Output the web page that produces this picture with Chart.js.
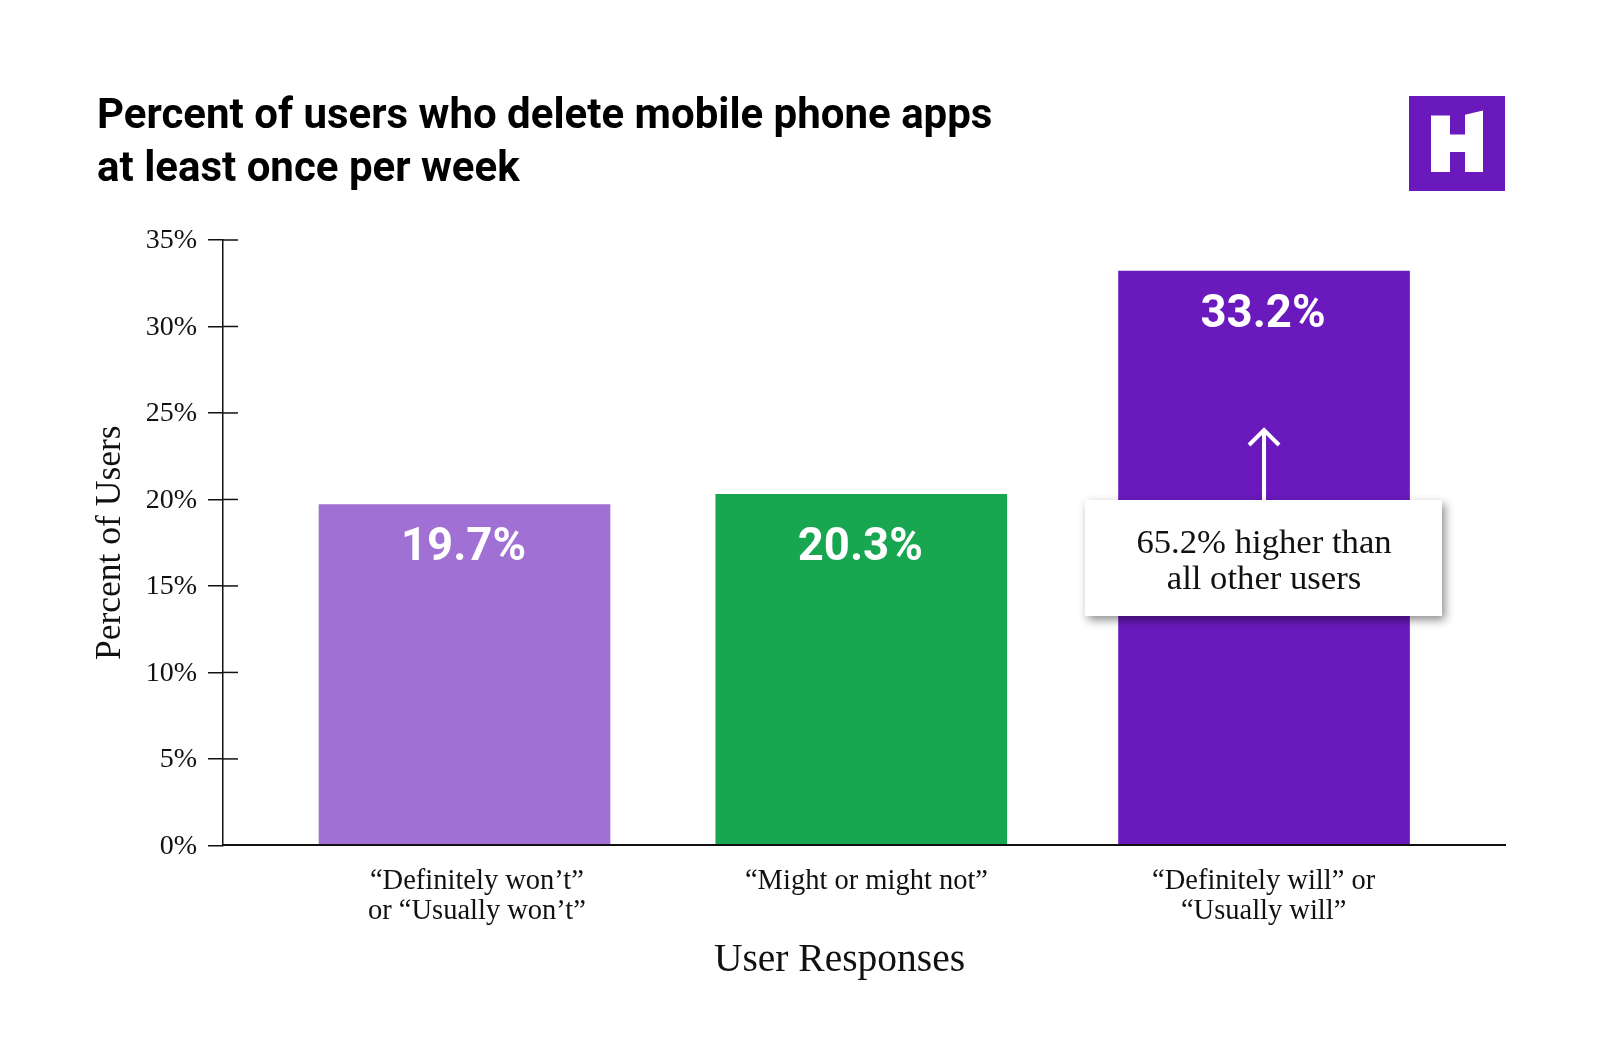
<!DOCTYPE html>
<html>
<head>
<meta charset="utf-8">
<title>Percent of users who delete mobile phone apps</title>
<script src="https://cdn.jsdelivr.net/npm/chart.js@4"></script>
<style>
  html, body { margin: 0; background: #fff; }
  canvas { display: block; }
</style>
</head>
<body>
<canvas id="grafica" width="1600" height="1054"></canvas>
<script>
const titleLines = ["Percent of users who delete mobile phone apps", "at least once per week"];
const categories = [["“Definitely won’t”", "or “Usually won’t”"], ["“Might or might not”"], ["“Definitely will” or", "“Usually will”"]];
const percents = [19.7, 20.3, 33.2];
const barColors = ["#A070D4", "#18A750", "#6A19BD"];
const yTicks = [0, 5, 10, 15, 20, 25, 30, 35];
const calloutLines = ["65.2% higher than", "all other users"];
const xAxisName = "User Responses";
const yAxisName = "Percent of Users";

const serif = "'Liberation Serif'";
const sans = "Roboto";
const ink = "#111";

// the original does not space things evenly, these are in axis units
const barSlots = [0, 0.9925, 2];
const labelSlots = [0.031, 1.0055, 1.999];
const barLabelLevels = [17.13, 17.13, 30.65];

const extras = {
    id: "extras",
    afterDatasetsDraw(chart) {
        const ctx = chart.ctx;
        const x = chart.scales.x;
        const y = chart.scales.y;

        // inner half of the y ticks
        ctx.save();
        ctx.strokeStyle = ink;
        ctx.lineWidth = 1.5;
        yTicks.forEach((t) => {
            if (t === 0) return;
            const py = y.getPixelForValue(t);
            ctx.beginPath();
            ctx.moveTo(x.left, py);
            ctx.lineTo(x.left + 15, py);
            ctx.stroke();
        });

        // value on each bar
        ctx.fillStyle = "#fff";
        ctx.font = "700 45.5px " + sans;
        ctx.textAlign = "center";
        ctx.textBaseline = "middle";
        chart.getDatasetMeta(0).data.forEach((bar, i) => {
            ctx.fillText(percents[i].toFixed(1) + "%", bar.x - 1, y.getPixelForValue(barLabelLevels[i]));
        });

        // arrow above the callout
        const ax = chart.getDatasetMeta(0).data[2].x;
        ctx.strokeStyle = "#fff";
        ctx.lineWidth = 4;
        ctx.beginPath();
        ctx.moveTo(ax, 500);
        ctx.lineTo(ax, 430);
        ctx.moveTo(ax - 15, 445);
        ctx.lineTo(ax, 430);
        ctx.lineTo(ax + 15, 445);
        ctx.stroke();

        // callout
        ctx.save();
        ctx.shadowColor = "rgba(0,0,0,0.45)";
        ctx.shadowBlur = 9;
        ctx.shadowOffsetX = 3;
        ctx.shadowOffsetY = 4;
        ctx.fillStyle = "#fff";
        ctx.fillRect(1085, 500, 357, 116);
        ctx.restore();
        ctx.fillStyle = ink;
        ctx.font = "34.7px " + serif;
        ctx.textBaseline = "alphabetic";
        ctx.fillText(calloutLines[0], ax, 552.5);
        ctx.fillText(calloutLines[1], ax, 588.5);

        // x axis name
        ctx.font = "39.5px " + serif;
        ctx.textBaseline = "middle";
        ctx.fillText(xAxisName, 839.5, 961);

        // logo
        ctx.fillStyle = "#6A19BD";
        ctx.fillRect(1409, 96, 96, 95);
        ctx.fillStyle = "#fff";
        ctx.beginPath();
        [[1431, 115.5], [1450, 115.5], [1450, 134.6], [1465, 134.6], [1465, 114.7], [1483, 110.5],
         [1483, 172], [1465, 172], [1465, 152], [1450, 152], [1450, 172], [1431, 172]].forEach((p, i) => {
            if (i === 0) ctx.moveTo(p[0], p[1]); else ctx.lineTo(p[0], p[1]);
        });
        ctx.closePath();
        ctx.fill();
        ctx.restore();
    },
};

new Chart(document.getElementById("grafica"), {
    type: "bar",
    data: {
        datasets: [{
            data: percents.map((v, i) => ({ x: barSlots[i], y: v })),
            backgroundColor: barColors,
            barThickness: 291,
            borderWidth: 0,
        }],
    },
    options: {
        responsive: false,
        animation: false,
        devicePixelRatio: 1,
        layout: { padding: { left: 97, right: 95, top: 0, bottom: 108.6 } },
        plugins: {
            legend: { display: false },
            tooltip: { enabled: false },
            title: {
                display: true,
                text: titleLines,
                align: "start",
                color: "#000",
                font: { family: sans, weight: "700", size: 42, lineHeight: 53 / 42 },
                padding: { top: 91, bottom: 43 },
            },
        },
        scales: {
            x: {
                type: "linear",
                offset: false,
                min: -0.6042,
                max: 2.6028,
                grid: { display: false, drawTicks: false, offset: false },
                border: { color: ink, width: 2, z: 1 },
                afterBuildTicks: (scale) => { scale.ticks = labelSlots.map((value) => ({ value })); },
                afterFit: (scale) => { scale.height = 100; },
                ticks: {
                    autoSkip: false,
                    maxRotation: 0,
                    padding: 21,
                    color: ink,
                    font: { family: serif, size: 28.5, lineHeight: 30 / 28.5 },
                    callback: (value, i) => categories[i],
                },
            },
            y: {
                min: 0,
                max: 35,
                afterBuildTicks: (scale) => { scale.ticks = yTicks.map((value) => ({ value })); },
                afterFit: (scale) => { scale.width = 126; },
                grid: { drawOnChartArea: false, color: ink, tickLength: 15, lineWidth: 1.5 },
                border: { color: ink, width: 1.5 },
                title: {
                    display: true,
                    text: yAxisName,
                    color: ink,
                    font: { family: serif, size: 35.5, lineHeight: 0.75 },
                    padding: 0,
                },
                ticks: {
                    padding: 11,
                    labelOffset: 1,
                    color: ink,
                    font: { family: serif, size: 28 },
                    callback: (value) => value + "%",
                },
            },
        },
    },
    plugins: [extras],
});
</script>
</body>
</html>
